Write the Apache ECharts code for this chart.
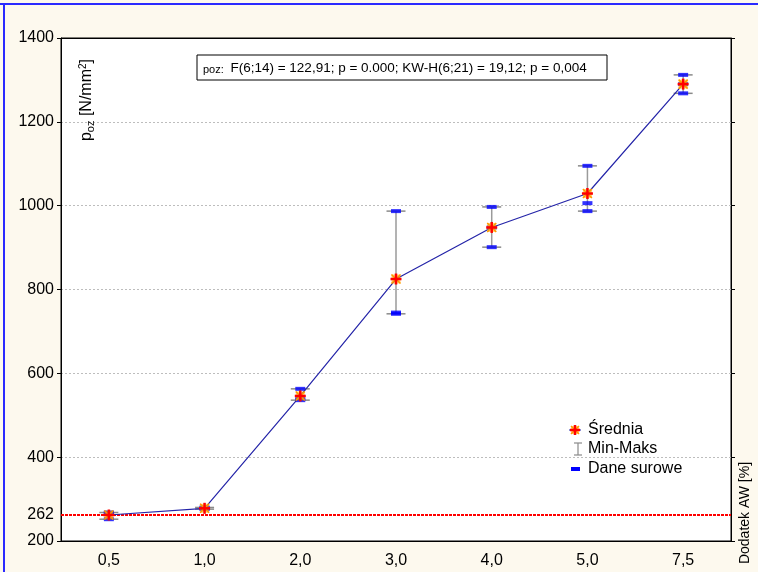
<!DOCTYPE html>
<html>
<head>
<meta charset="utf-8">
<script src="https://cdn.jsdelivr.net/npm/echarts@6/dist/echarts.min.js"></script>
<style>
html,body{margin:0;padding:0;background:#fdf9ee;}
#chart{width:758px;height:572px;}
</style>
</head>
<body>
<div id="chart"></div>
<script>
const categories = ['0,5', '1,0', '2,0', '3,0', '4,0', '5,0', '7,5'];
const meanValues = [262, 278, 546, 825, 948, 1029, 1290];
const minValues = [252, 276, 536, 742, 901, 987, 1268];
const maxValues = [268, 280, 563, 987, 997, 1095, 1312];
const rawValues = [
  [268, 267, 252],
  [280, 278, 276],
  [563, 540, 536],
  [987, 745, 742],
  [997, 948, 901],
  [1095, 1006, 987],
  [1312, 1290, 1268]
];
const refValue = 262;
const yMin = 200, yMax = 1400, yStep = 200;
const statsText = 'F(6;14) = 122,91; p = 0.000; KW-H(6;21) = 19,12; p = 0,004';

const FONT = 'Liberation Sans, Arial, sans-serif';

const rangeData = categories.map((c, i) => [i, minValues[i], maxValues[i]]);
const rawData = [];
rawValues.forEach((arr, i) => arr.forEach(v => rawData.push([i, v])));
const meanData = categories.map((c, i) => [i, meanValues[i]]);

const chart = echarts.init(document.getElementById('chart'), null, {renderer: 'canvas'});

const option = {
  backgroundColor: '#fdf9ee',
  animation: false,
  grid: {left: 61, right: 27, top: 38, bottom: 31, show: true, backgroundColor: '#ffffff', borderColor: '#000', borderWidth: 1},
  xAxis: [{
    type: 'category', data: categories, position: 'bottom',
    axisLine: {lineStyle: {color: '#000', width: 1}},
    axisTick: {alignWithLabel: true, length: 5, lineStyle: {color: '#000'}},
    axisLabel: {color: '#000', fontSize: 16, fontFamily: FONT, margin: 12},
    splitLine: {show: false}
  }, {
    type: 'category', data: categories, position: 'top',
    axisLine: {show: true, lineStyle: {color: '#000'}},
    axisTick: {alignWithLabel: true, length: 4, lineStyle: {color: '#555'}},
    axisLabel: {show: false}, splitLine: {show: false}
  }],
  yAxis: [{
    type: 'value', min: yMin, max: yMax, interval: yStep,
    axisLine: {show: true, lineStyle: {color: '#000'}},
    axisTick: {show: true, length: 4, lineStyle: {color: '#000'}},
    axisLabel: {color: '#000', fontSize: 16, fontFamily: FONT, margin: 7, formatter: v => String(v)},
    splitLine: {show: true, lineStyle: {color: '#bdbdbd', type: [2, 2], width: 1}}
  }, {
    type: 'value', min: yMin, max: yMax, interval: yStep, position: 'right',
    axisLine: {show: true, lineStyle: {color: '#000'}},
    axisTick: {show: true, length: 4, lineStyle: {color: '#000'}},
    axisLabel: {show: false}, splitLine: {show: false}
  }],
  series: [
    {
      name: 'ref', type: 'line', data: [], xAxisIndex: 0, yAxisIndex: 0,
      markLine: {
        silent: true, symbol: 'none',
        lineStyle: {color: '#ff0000', type: [3, 1], width: 2},
        label: {show: true, position: 'start', formatter: String(refValue), color: '#000', fontSize: 16, fontFamily: FONT, distance: 7},
        data: [{yAxis: refValue}]
      }
    },
    {
      name: 'Min-Maks', type: 'custom', data: rangeData, z: 3,
      renderItem: function (params, api) {
        const top = api.coord([api.value(0), api.value(2)]);
        const bot = api.coord([api.value(0), api.value(1)]);
        const hw = 9.5;
        const st = {stroke: '#8a8a8a', lineWidth: 1.5};
        return {type: 'group', children: [
          {type: 'line', shape: {x1: top[0], y1: top[1], x2: bot[0], y2: bot[1]}, style: {stroke: '#9a9a9a', lineWidth: 1.5}},
          {type: 'line', shape: {x1: top[0] - hw, y1: top[1], x2: top[0] + hw, y2: top[1]}, style: st},
          {type: 'line', shape: {x1: bot[0] - hw, y1: bot[1], x2: bot[0] + hw, y2: bot[1]}, style: st}
        ]};
      }
    },
    {
      name: 'Dane surowe', type: 'scatter', data: rawData, z: 4,
      symbol: 'rect', symbolSize: [10, 4],
      itemStyle: {color: '#0000ff'}
    },
    {
      name: 'line', type: 'line', data: meanData, z: 5,
      showSymbol: false, symbol: 'none',
      lineStyle: {color: '#2424a8', width: 1.2}
    },
    {
      name: 'Średnia', type: 'custom', data: meanData, z: 6,
      renderItem: function (params, api) {
        const p = api.coord([api.value(0), api.value(1)]);
        const r = 5.5, d = 4.5;
        return {type: 'group', children: [
          {type: 'rect', shape: {x: p[0] - 4.5, y: p[1] - 4.5, width: 9, height: 9}, style: {fill: '#ffb000', opacity: 0.55}},
          {type: 'line', shape: {x1: p[0] - d, y1: p[1] - d, x2: p[0] + d, y2: p[1] + d}, style: {stroke: '#ff9900', lineWidth: 1.5}},
          {type: 'line', shape: {x1: p[0] - d, y1: p[1] + d, x2: p[0] + d, y2: p[1] - d}, style: {stroke: '#ff9900', lineWidth: 1.5}},
          {type: 'line', shape: {x1: p[0] - r, y1: p[1], x2: p[0] + r, y2: p[1]}, style: {stroke: '#ff0000', lineWidth: 2.5}},
          {type: 'line', shape: {x1: p[0], y1: p[1] - r, x2: p[0], y2: p[1] + r}, style: {stroke: '#ff0000', lineWidth: 2.5}}
        ]};
      }
    }
  ],
  graphic: [
    {type: 'line', shape: {x1: 0, y1: 4, x2: 758, y2: 4}, style: {stroke: '#2a2aff', lineWidth: 2}, silent: true},
    {type: 'line', shape: {x1: 4, y1: 4, x2: 4, y2: 572}, style: {stroke: '#2a2aff', lineWidth: 2}, silent: true},
    {type: 'rect', shape: {x: 197, y: 55, width: 410, height: 25}, style: {fill: '#ffffff', stroke: '#000', lineWidth: 1}, z: 10},
    {type: 'text', x: 203, y: 68, z: 11, style: {
      text: '{s|poz:}  {n|' + statsText + '}',
      verticalAlign: 'middle',
      rich: {
        s: {fontSize: 11, fontFamily: FONT, fill: '#000', padding: [3, 0, 0, 0]},
        n: {fontSize: 13.5, fontFamily: FONT, fill: '#000'}
      }
    }},
    {type: 'text', x: 87, y: 100, rotation: Math.PI / 2, z: 11, style: {
      text: '{a|p}{b|oz}{a| [N/mm}{c|2}{a|]}',
      align: 'center', verticalAlign: 'middle',
      rich: {
        a: {fontSize: 16, fontFamily: FONT, fill: '#000'},
        b: {fontSize: 11, fontFamily: FONT, fill: '#000', padding: [8, 0, 0, 0]},
        c: {fontSize: 10, fontFamily: FONT, fill: '#000', padding: [0, 0, 8, 0]}
      }
    }},
    {type: 'text', x: 745, y: 513, rotation: Math.PI / 2, z: 11, style: {
      text: 'Dodatek AW [%]', align: 'center', verticalAlign: 'middle',
      fontSize: 14, fontFamily: FONT, fill: '#000'
    }},
    {type: 'group', z: 11, children: [
      {type: 'line', shape: {x1: 569, y1: 430, x2: 581, y2: 430}, style: {stroke: '#2424a8', lineWidth: 1}},
      {type: 'rect', shape: {x: 571, y: 426, width: 8, height: 8}, style: {fill: '#ffb000', opacity: 0.55}},
      {type: 'line', shape: {x1: 571, y1: 426, x2: 579, y2: 434}, style: {stroke: '#ff9900', lineWidth: 1.5}},
      {type: 'line', shape: {x1: 571, y1: 434, x2: 579, y2: 426}, style: {stroke: '#ff9900', lineWidth: 1.5}},
      {type: 'line', shape: {x1: 570, y1: 430, x2: 580, y2: 430}, style: {stroke: '#ff0000', lineWidth: 2.5}},
      {type: 'line', shape: {x1: 575, y1: 425, x2: 575, y2: 435}, style: {stroke: '#ff0000', lineWidth: 2.5}},
      {type: 'text', x: 588, y: 430, style: {text: 'Średnia', fontSize: 16, fontFamily: FONT, fill: '#000', verticalAlign: 'middle'}},
      {type: 'line', shape: {x1: 578, y1: 443, x2: 578, y2: 455}, style: {stroke: '#8a8a8a', lineWidth: 1.2}},
      {type: 'line', shape: {x1: 574, y1: 443, x2: 582, y2: 443}, style: {stroke: '#8a8a8a', lineWidth: 1.2}},
      {type: 'line', shape: {x1: 574, y1: 455, x2: 582, y2: 455}, style: {stroke: '#8a8a8a', lineWidth: 1.2}},
      {type: 'text', x: 588, y: 449, style: {text: 'Min-Maks', fontSize: 16, fontFamily: FONT, fill: '#000', verticalAlign: 'middle'}},
      {type: 'rect', shape: {x: 571, y: 467, width: 9, height: 4}, style: {fill: '#0000ff'}},
      {type: 'text', x: 588, y: 469, style: {text: 'Dane surowe', fontSize: 16, fontFamily: FONT, fill: '#000', verticalAlign: 'middle'}}
    ]}
  ]
};
chart.setOption(option);
</script>
</body>
</html>
